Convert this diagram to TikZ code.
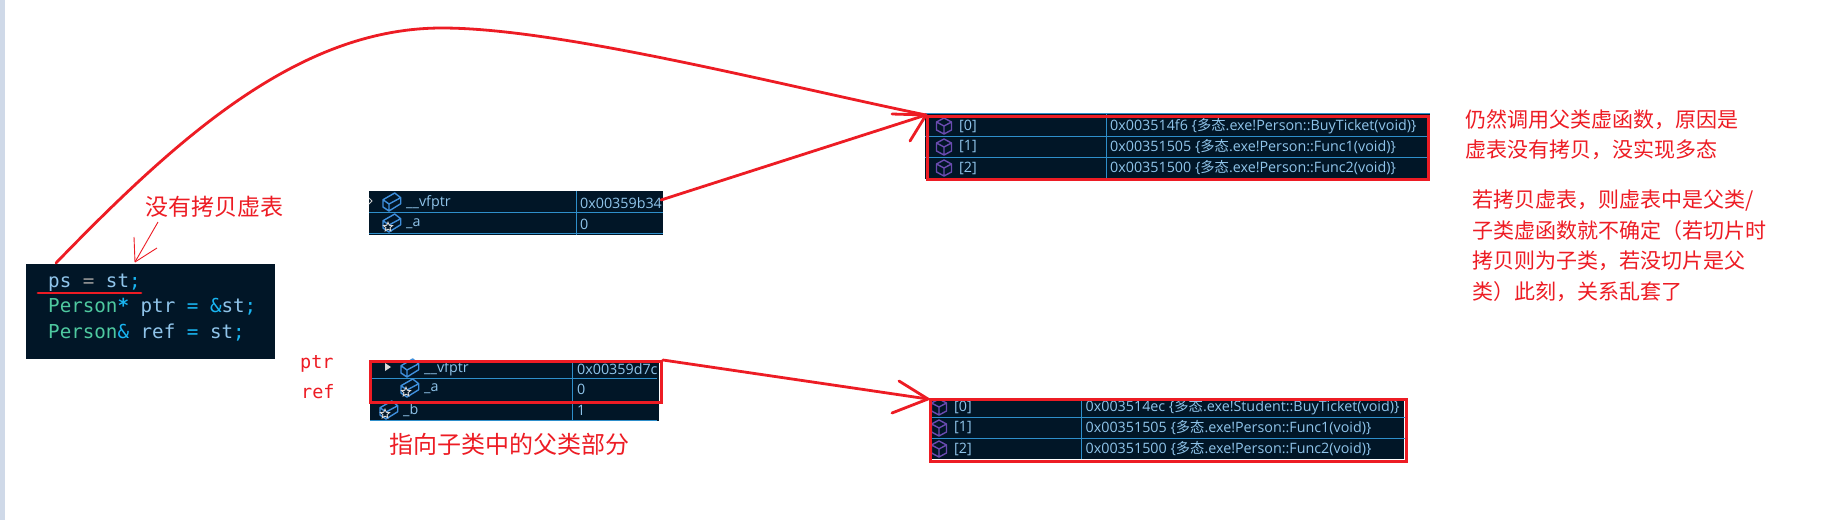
\documentclass[tikz,border=0pt]{standalone}
\usepackage{fontspec}
\usepackage{amsmath}
\usetikzlibrary{shapes.geometric,positioning}
\setmainfont{Open Sans}
\setmonofont{DejaVu Sans Mono}
\newfontfamily\cjk{Noto Sans CJK SC}
\definecolor{panelbg}{HTML}{011627}
\definecolor{gridline}{HTML}{2E8FCB}
\definecolor{markred}{HTML}{ED1C24}
\definecolor{valblue}{HTML}{8FC4EA}
\definecolor{keyteal}{HTML}{4EC9A0}
\definecolor{opblue}{HTML}{19B5F1}
\definecolor{cubeviolet}{HTML}{6A4BB0}
\definecolor{boxblue}{HTML}{3F8FDC}
\definecolor{stripbg}{HTML}{CFD9E8}
\tikzset{
    panel/.style={fill=panelbg, inner sep=0pt},
    cell/.style={text=valblue, font=\fontsize{14.3}{16}\selectfont, anchor=west, inner sep=0pt},
    note/.style={text=markred, font=\cjk\fontsize{21}{30.5}\selectfont, anchor=west, inner sep=0pt},
    codetext/.style={text=valblue, font=\ttfamily\fontsize{19.2}{22}\selectfont, anchor=west, inner sep=0pt},
    redbox/.style={draw=markred, line width=2.9pt},
    redline/.style={draw=markred, line width=2.8pt, line cap=round},
    thinred/.style={draw=markred, line width=.9pt},
    grid/.style={draw=gridline, line width=1pt},
    cube/.pic={
        \draw[cubeviolet, line width=1.4pt, line join=round] (0,-8) -- (7.5,-4) -- (7.5,4) -- (0,8) -- (-7.5,4) -- (-7.5,-4) -- cycle (-7.5,-4) -- (0,0) -- (7.5,-4) (0,0) -- (0,8);
    },
    field/.pic={
        \draw[boxblue, line width=1.4pt, line join=round] (-9,-2.3) -- (2.7,-9) -- (8.7,-4.3) -- (8.7,1.7) -- (-3,9) -- (-9,5) -- cycle (-9,-2.3) -- (-3,2) -- (8.7,-4.3) (-3,2) -- (-3,9);
    },
    fieldstar/.pic={
        \draw[boxblue, line width=1.4pt, line join=round] (-9,-2.3) -- (2.7,-9) -- (8.7,-4.3) -- (8.7,1.7) -- (-3,9) -- (-9,5) -- cycle (-9,-2.3) -- (-3,2) -- (8.7,-4.3);
        \node[star, star points=5, star point ratio=2.2, draw=white!85!black, fill=panelbg, line width=.9pt, minimum size=9.5pt, inner sep=0pt] at (-4,4) {};
    },
}
\begin{document}
\begin{tikzpicture}[x=1pt,y=-1pt]
    \useasboundingbox (0,0) rectangle (1833,520);
    \fill[white] (0,0) rectangle (1833,520);
    \fill[stripbg] (0,0) rectangle (5,520);

    % code
    \node[panel, minimum width=249pt, minimum height=95pt, anchor=north west] (codebox) at (26,264) {};
    \node[codetext] (codeps) at (48,283) {ps \textcolor{gray!80}{=} st\textcolor{opblue}{;}};
    \node[codetext] (codeptr) at (48,307) {\textcolor{keyteal}{Person}\textcolor{opblue}{\bfseries *} ptr \textcolor{opblue}{=} \textcolor{opblue}{\&}st\textcolor{opblue}{;}};
    \node[codetext] (coderef) at (48,333) {\textcolor{keyteal}{Person}\textcolor{opblue}{\&} ref \textcolor{opblue}{=} st\textcolor{opblue}{;}};
    \draw[redline] (38,293) -- (141,293);

    % object st, sliced
    \node[panel, minimum width=294pt, minimum height=44pt, anchor=north west] (objst) at (369,191) {};
    \draw[grid] (369,212) -- (663,212) (369,233) -- (663,233) (576,191) -- (576,235);
    \draw[white!80!black, line width=.9pt] (369,198) -- (372,201) -- (369,204);
    \pic at (392,202) {field};
    \pic at (392,223) {fieldstar};
    \node[cell] (stvfptr) at (406,203) {\_\_vfptr};
    \node[cell] (sta) at (406,224) {\_a};
    \node[cell] (stvfval) at (580,203) {0x00359b34};
    \node[cell] (staval) at (580,224) {0};
    \coordinate (stout) at (661,200);

    % object reached through ptr and ref
    \node[panel, minimum width=289pt, minimum height=61pt, anchor=north west] (objref) at (370,360) {};
    \draw[grid] (370,378) -- (657,378) (370,420) -- (657,420) (572,360) -- (572,421);
    \fill[white!85!black] (385,363) -- (391,367) -- (385,371) -- cycle;
    \pic at (410,368) {field};
    \pic at (410,388) {fieldstar};
    \pic at (389,410) {fieldstar};
    \node[cell] (refvfptr) at (424,369) {\_\_vfptr};
    \node[cell] (refa) at (424,389) {\_a};
    \node[cell] (refb) at (403,410) {\_b};
    \node[cell] (refvfval) at (577,369) {0x00359d7c};
    \node[cell] (refaval) at (577,389) {0};
    \node[cell] (refbval) at (577,410) {1};
    \node[redbox, minimum width=291pt, minimum height=41pt, anchor=north west] (refpart) at (369,360) {};

    % upper table
    \node[panel, minimum width=505pt, minimum height=66pt, anchor=north west] (vtabA) at (925,113) {};
    \draw[grid] (925,113) -- (1430,113) (925,136) -- (1430,136) (925,157) -- (1430,157) (1106,113) -- (1106,178);
    \pic at (944,126) {cube};
    \pic at (944,147) {cube};
    \pic at (944,168) {cube};
    \foreach \i/\y in {0/126,1/147,2/168}
        \node[cell] (idxA\i) at (959,\y) {[\i]};
    \node[cell] (valA0) at (1110,126) {0x003514f6 \{{\cjk 多态}.exe!Person::BuyTicket(void)\}};
    \node[cell] (valA1) at (1110,147) {0x00351505 \{{\cjk 多态}.exe!Person::Func1(void)\}};
    \node[cell] (valA2) at (1110,168) {0x00351500 \{{\cjk 多态}.exe!Person::Func2(void)\}};
    \node[redbox, minimum width=501pt, minimum height=63pt, anchor=north west] (vtabAbox) at (926,115) {};

    % lower table
    \node[panel, minimum width=475pt, minimum height=61pt, anchor=north west] (vtabB) at (929,398) {};
    \draw[grid] (929,417) -- (1405,417) (929,438) -- (1405,438) (1081,398) -- (1081,459);
    \pic at (939,407) {cube};
    \pic at (939,428) {cube};
    \pic at (939,449) {cube};
    \foreach \i/\y in {0/407,1/428,2/449}
        \node[cell] (idxB\i) at (954,\y) {[\i]};
    \node[cell] (valB0) at (1085.5,407) {0x003514ec \{{\cjk 多态}.exe!Student::BuyTicket(void)\}};
    \node[cell] (valB1) at (1085.5,428) {0x00351505 \{{\cjk 多态}.exe!Person::Func1(void)\}};
    \node[cell] (valB2) at (1085.5,449) {0x00351500 \{{\cjk 多态}.exe!Person::Func2(void)\}};
    \node[redbox, minimum width=476pt, minimum height=62pt, anchor=north west] (vtabBbox) at (929,398) {};

    % labels
    \node[note, font=\cjk\fontsize{23}{26}\selectfont] (lblnocopy) at (145,207) {没有拷贝虚表};
    \node[note, font=\cjk\fontsize{24}{27}\selectfont] (lblpart) at (389,444) {指向子类中的父类部分};
    \node[note, font=\ttfamily\fontsize{18.5}{20}\selectfont] (lblptr) at (300,364) {ptr};
    \node[note, font=\ttfamily\fontsize{18.5}{20}\selectfont] (lblref) at (301,392) {ref};
    \node[note, anchor=north west, align=left] (noteA) at (1465,109) {仍然调用父类虚函数，原因是\\虚表没有拷贝，没实现多态};
    \node[note, anchor=north west, align=left] (noteB) at (1472,190) {若拷贝虚表，则虚表中是父类/\\子类虚函数就不确定（若切片时\\拷贝则为子类，若没切片是父\\类）此刻，关系乱套了};

    % connectors
    \coordinate (arctail) at (56,263);
    \coordinate (archead) at (926,115);
    \draw[redline] (arctail) .. controls (180,135) and (300,28) .. (442,28) .. controls (560,28) and (780,85) .. (archead);
    \draw[redline] (archead) -- (892,114) (archead) -- (910,141);
    \draw[redline] (stout) -- (archead);
    \coordinate (lowhead) at (928,399);
    \draw[redline] (refpart.north east) -- (lowhead);
    \draw[redline] (lowhead) -- (899,381) (lowhead) -- (892,413);
    \coordinate (notetail) at (158,222);
    \coordinate (notehead) at (135,262);
    \draw[thinred] (notetail) -- (notehead);
    \draw[thinred] (notehead) -- (134,237) (notehead) -- (157,248);
\end{tikzpicture}
\end{document}
